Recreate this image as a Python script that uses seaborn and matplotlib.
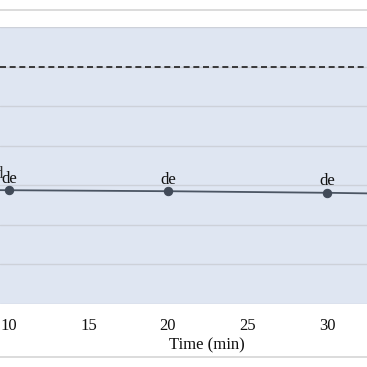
import matplotlib
matplotlib.use("Agg")
import matplotlib.pyplot as plt
import seaborn as sns
import pandas as pd
from matplotlib.lines import Line2D

# ── data ──────────────────────────────────────────────────
time_min = [5, 10, 20, 30, 40]
value = [57.8, 57.5, 57.0, 56.2, 55.0]
point_labels = ["", "de", "de", "de", "de"]
limit_value = 120
x_ticks = [10, 15, 20, 25, 30]
y_ticks = [0, 20, 40, 60, 80, 100, 120, 140]

df = pd.DataFrame({"time": time_min, "value": value})

sns.set_theme(style="white")
plt.rcParams["font.family"] = ["Liberation Serif", "DejaVu Serif"]

fig = plt.figure(figsize=(3.67, 3.67), dpi=100)
fig.patch.set_facecolor("white")
ax = fig.add_axes([0.0, 0.1717, 1.0, 0.7548])
ax.set_facecolor("#dfe6f2")

sns.lineplot(data=df, x="time", y="value", ax=ax, color="#4b5563",
             linewidth=1.3, marker="o", markersize=6,
             markerfacecolor="#414a58", markeredgecolor="#414a58")

ax.axhline(limit_value, color="#1e1e1e", linewidth=1.2,
           linestyle=(0, (3.6, 2.2)), zorder=3)

for t, v, lab in zip(time_min, value, point_labels):
    if lab:
        ax.annotate(lab, (t, v), xytext=(0, 2.5), textcoords="offset points",
                    ha="center", va="bottom", fontsize=12, color="#111111")
# fragment of a neighbouring label at the left edge
ax.text(9.63, 61.5, "d", ha="right", va="bottom", fontsize=12,
        color="#333333", clip_on=False)

ax.set_xlim(9.434, 32.52)
ax.set_ylim(0, 140)
ax.set_xticks(x_ticks)
ax.set_yticks(y_ticks)
ax.set_yticklabels([])
ax.grid(axis="y", color="#cdd1d9", linewidth=1.0)
ax.set_axisbelow(True)
for s in ax.spines.values():
    s.set_visible(False)
ax.tick_params(axis="x", length=0, pad=10, labelsize=12, colors="#111111")
ax.tick_params(axis="y", length=0)
ax.set_xlabel("")
ax.set_ylabel("")

fig.text(207 / 367, 1 - 345 / 367, "Time (min)", ha="center", va="center",
         fontsize=12, color="#111111")

# chart frame lines above and below
fig.add_artist(Line2D([0, 1], [1 - 10 / 367] * 2, color="#d6d6d6", linewidth=1.2))
fig.add_artist(Line2D([0, 1], [1 - 357 / 367] * 2, color="#d6d6d6", linewidth=1.2))

fig.savefig("out.png", dpi=100, facecolor="white")
